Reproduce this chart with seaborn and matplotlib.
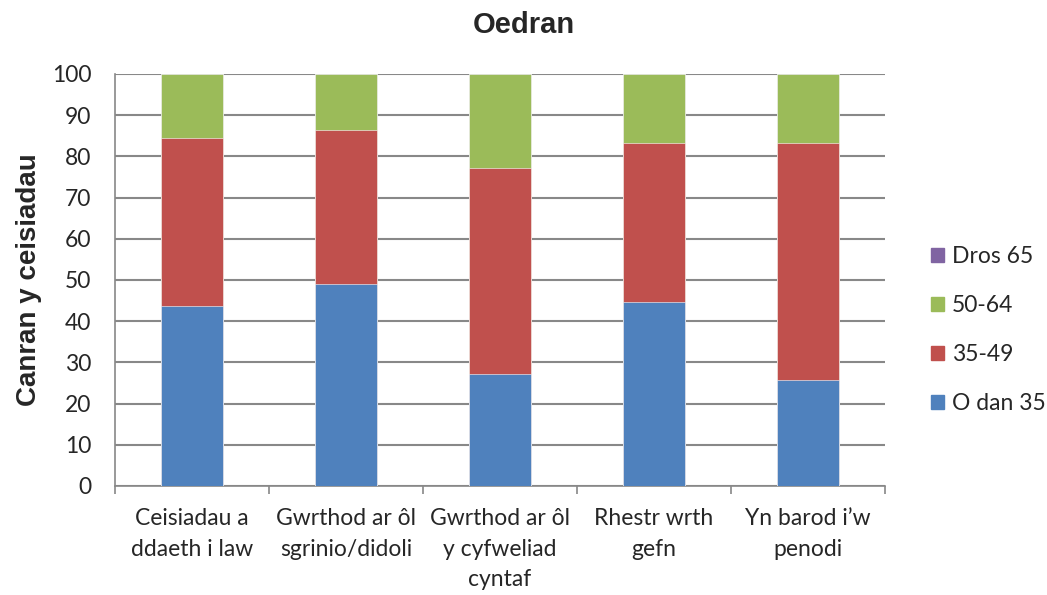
import numpy as np
import pandas as pd
import seaborn as sns
import matplotlib.pyplot as plt
from matplotlib.patches import Patch

# ----------------------------
# data
# ----------------------------
categories = ["Ceisiadau a\nddaeth i law", "Gwrthod ar ôl\nsgrinio/didoli",
              "Gwrthod ar ôl\ny cyfweliad\ncyntaf", "Rhestr wrth\ngefn",
              "Yn barod i\u2019w\npenodi"]
o_dan_35 = [43.8, 49.1, 27.1, 44.6, 25.7]
g35_49 = [40.7, 37.4, 50.2, 38.7, 57.6]
g50_64 = [15.5, 13.5, 22.7, 16.7, 16.7]
dros_65 = [0, 0, 0, 0, 0]

series_names = ["O dan 35", "35-49", "50-64", "Dros 65"]
colors = ["#4F81BD", "#C0504D", "#9BBB59", "#8064A2"]

sns.set_style("white")
plt.rcParams['font.family'] = ['Lato', 'DejaVu Sans']

fig = plt.figure(figsize=(10.47, 5.95), dpi=100)
ax = fig.add_axes([115/1047, 1-486/595, 770/1047, 412/595])

# stacked bars: draw cumulative totals, tallest first
stack = np.array([o_dan_35, g35_49, g50_64, dros_65])
cum = np.cumsum(stack, axis=0)
for i in range(len(series_names) - 1, -1, -1):
    df = pd.DataFrame({"cat": categories, "val": cum[i]})
    sns.barplot(data=df, x="cat", y="val", color=colors[i], saturation=1,
                width=0.4, edgecolor="white", linewidth=0.4, ax=ax, zorder=3)

ax.set_xlim(-0.5, 4.5)
ax.set_ylim(0, 100)
ax.set_yticks(range(0, 101, 10))
ax.yaxis.grid(True, color="#888888", linewidth=1.5, zorder=0)
ax.set_axisbelow(True)

# x ticks between categories
ax.set_xticks(range(5))
ax.set_xticklabels(categories, fontsize=16.5, linespacing=1.55)
ax.set_xticks(np.arange(-0.5, 5, 1), minor=True)
ax.tick_params(axis="x", which="major", length=0, pad=16)
ax.tick_params(axis="x", which="minor", length=6, color="#888888", width=1.2,
               direction="out", bottom=True)
ax.tick_params(axis="y", length=5, color="#888888", width=1.2, direction="out",
               labelsize=16.5, pad=12)

for s in ["top", "right"]:
    ax.spines[s].set_visible(False)
for s in ["left", "bottom"]:
    ax.spines[s].set_color("#888888")
    ax.spines[s].set_linewidth(1.2)

ax.set_xlabel("")
ax.set_ylabel("Canran y ceisiadau", fontsize=20, fontweight="bold",
              family=["Liberation Sans", "DejaVu Sans"], labelpad=7)
fig.text(524/1047, 1 - 25/595, "Oedran", ha="center", va="center",
         fontsize=21, fontweight="bold", family=["Liberation Sans", "DejaVu Sans"])

handles = [Patch(color=colors[i], label=series_names[i]) for i in range(3, -1, -1)]
fig.legend(handles=handles, loc="center left", bbox_to_anchor=(0.8895, 1 - 330/595),
           frameon=False, fontsize=16.5, handlelength=0.55, handleheight=0.55,
           handletextpad=0.35, labelspacing=1.22, borderpad=0, borderaxespad=0)

plt.savefig("out.png", dpi=100)
